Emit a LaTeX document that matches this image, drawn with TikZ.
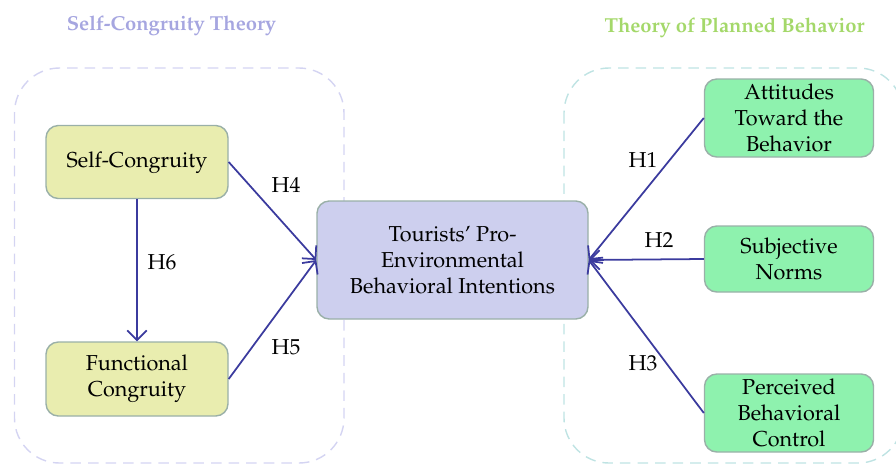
\documentclass[tikz,border=0pt]{standalone}
\usepackage[T1]{fontenc}
\usepackage{mathpazo}
\usetikzlibrary{arrows.meta}
\definecolor{yelfill}{HTML}{E9EDAF}
\definecolor{midfill}{HTML}{CDCFEE}
\definecolor{grnfill}{HTML}{8EF2AE}
\definecolor{boxline}{HTML}{9AB0A8}
\definecolor{linkblue}{HTML}{3B3B9E}
\definecolor{sctitle}{HTML}{A6A6E0}
\definecolor{tpbtitle}{HTML}{A4D86A}
\definecolor{scdash}{HTML}{D4D4F2}
\definecolor{tpbdash}{HTML}{BFE3E3}

\begin{document}
\begin{tikzpicture}[
  box/.style={draw=boxline, line width=0.8pt, rounded corners=7pt, align=center, inner sep=0pt, font=\fontsize{12.3}{14.8}\selectfont},
  link/.style={draw=linkblue, line width=1pt, -{Straight Barb[length=5.5pt,width=11pt]}},
  hyp/.style={font=\fontsize{12.3}{14}\selectfont},
  theory/.style={font=\fontsize{11.5}{14}\selectfont\bfseries}]
\useasboundingbox (0,0) rectangle (17.92,-9.32);
\clip (0,0) rectangle (17.92,-9.32);
% dashed frames of the two theories
\draw[scdash, line width=0.8pt, dash pattern=on 6pt off 4pt, rounded corners=0.9cm] (0.29,-1.36) rectangle (6.88,-9.26);
\draw[tpbdash, line width=0.8pt, dash pattern=on 6pt off 4pt, rounded corners=0.9cm] (11.28,-1.36) rectangle (18.06,-9.26);
\node[theory, text=sctitle] (sct) at (3.43,-0.52) {Self-Congruity Theory};
\node[theory, text=tpbtitle] (tpb) at (14.69,-0.56) {Theory of Planned Behavior};
% boxes
\node[box, fill=yelfill, minimum width=3.64cm, minimum height=1.46cm, text depth=0.1cm] (sc) at (2.74,-3.24) {Self-Congruity};
\node[box, fill=yelfill, minimum width=3.64cm, minimum height=1.48cm] (fc) at (2.74,-7.58) {Functional\\Congruity};
\node[box, fill=midfill, minimum width=5.42cm, minimum height=2.36cm] (pei) at (9.05,-5.2) {Tourists' Pro-\\Environmental\\Behavioral Intentions};
\node[box, fill=grnfill, minimum width=3.38cm, minimum height=1.56cm] (att) at (15.78,-2.36) {Attitudes\\Toward the\\Behavior};
\node[box, fill=grnfill, minimum width=3.38cm, minimum height=1.32cm] (sn) at (15.78,-5.18) {Subjective\\Norms};
\node[box, fill=grnfill, minimum width=3.38cm, minimum height=1.56cm] (pbc) at (15.78,-8.26) {Perceived\\Behavioral\\Control};
% hypotheses
\draw[link] (sc.south) -- (fc.north);
\draw[link] (sc.east) -- (pei.west);
\draw[link] (fc.east) -- (pei.west);
\draw[link] (att.west) -- (pei.east);
\draw[link] (sn.west) -- (pei.east);
\draw[link] (pbc.west) -- (pei.east);
\node[hyp] (h1) at (12.86,-3.2) {H1};
\node[hyp] (h2) at (13.18,-4.8) {H2};
\node[hyp] (h3) at (12.86,-7.26) {H3};
\node[hyp] (h4) at (5.72,-3.7) {H4};
\node[hyp] (h5) at (5.72,-6.94) {H5};
\node[hyp] (h6) at (3.24,-5.24) {H6};
\end{tikzpicture}
\end{document}
